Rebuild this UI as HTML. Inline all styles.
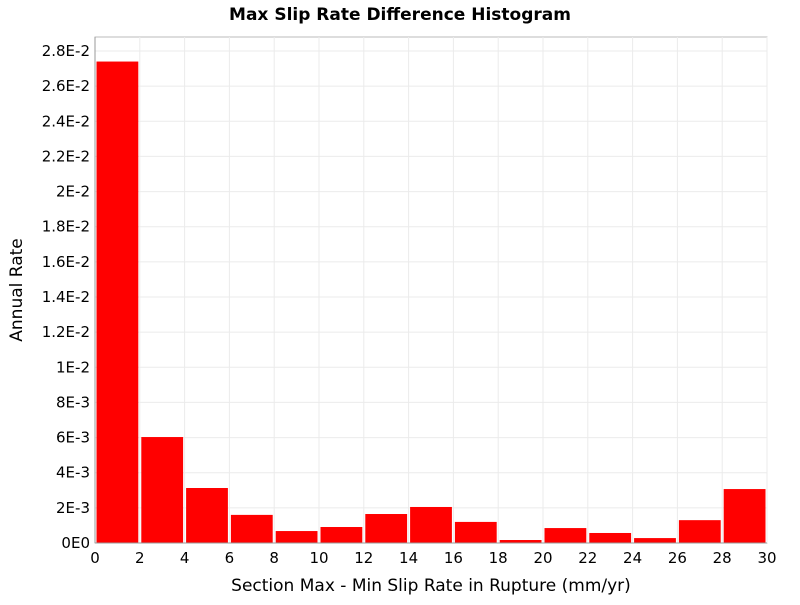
<!DOCTYPE html>
<html><head><meta charset="utf-8"><style>body{margin:0;background:#fff}svg text{font-family:"DejaVu Sans","Liberation Sans",sans-serif}</style></head>
<body>
<svg id="c" width="800" height="600">
<text x="400" y="20" text-anchor="middle" font-size="17" font-weight="bold">Max Slip Rate Difference Histogram</text>
<text x="431" y="591" text-anchor="middle" font-size="17">Section Max - Min Slip Rate in Rupture (mm/yr)</text>
<text transform="translate(22,290) rotate(-90)" text-anchor="middle" font-size="17">Annual Rate</text>
</svg>
<script>
const binStarts=[0,2,4,6,8,10,12,14,16,18,20,22,24,26,28];
const rates=[0.0274,0.00603,0.00313,0.0016,0.00068,0.00091,0.00165,0.00205,0.0012,0.00017,0.00085,0.00057,0.00028,0.0013,0.00307];
const xTicks=[0,2,4,6,8,10,12,14,16,18,20,22,24,26,28,30];
const yTicks=[0,0.002,0.004,0.006,0.008,0.01,0.012,0.014,0.016,0.018,0.02,0.022,0.024,0.026,0.028];
const yLabels=["0E0","2E-3","4E-3","6E-3","8E-3","1E-2","1.2E-2","1.4E-2","1.6E-2","1.8E-2","2E-2","2.2E-2","2.4E-2","2.6E-2","2.8E-2"];
const L=95,R=767,T=37,B=543;
const xs=v=>L+(v/30)*(R-L);
const ys=v=>B-(v/0.028)*(B-51);
const svg=document.getElementById('c');
const NS='http://www.w3.org/2000/svg';
function mk(t,a){const e=document.createElementNS(NS,t);for(const k in a)e.setAttribute(k,a[k]);svg.appendChild(e);return e;}
const bg=mk('rect',{x:L,y:T,width:R-L,height:B-T,fill:'#fff',stroke:'#bbb'});


xTicks.forEach(v=>{const g=mk('line',{x1:xs(v),x2:xs(v),y1:T,y2:B,stroke:'#ebebeb'});


const t=mk('text',{x:xs(v),y:B+20,'text-anchor':'middle','font-size':15});t.textContent=v;

});
yTicks.forEach((v,i)=>{const g=mk('line',{x1:L,x2:R,y1:ys(v),y2:ys(v),stroke:'#ebebeb'});


const t=mk('text',{x:L-5,y:ys(v)+5,'text-anchor':'end','font-size':15});t.textContent=yLabels[i];

});
binStarts.forEach((s,i)=>{const x0=xs(s)+1.5,x1=xs(s+2)-1.5;
const b=mk('rect',{x:x0,y:ys(rates[i]),width:x1-x0,height:B-ys(rates[i]),fill:'#ff0000'});

});
mk('line',{x1:L,x2:R,y1:B,y2:B,stroke:'#999'});
mk('line',{x1:L,x2:L,y1:T,y2:B,stroke:'#999'});
</script>
</body></html>
